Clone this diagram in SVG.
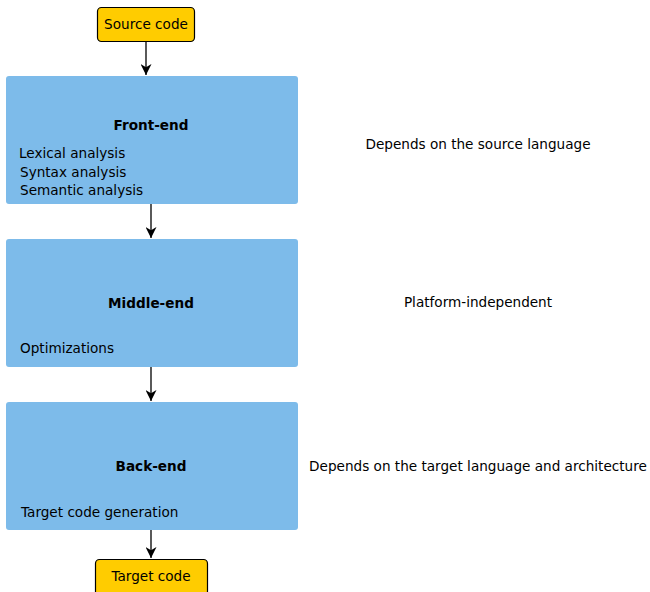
<svg xmlns="http://www.w3.org/2000/svg" width="650" height="592" viewBox="0 0 650 592">
  <defs>
    <marker id="arrow" viewBox="0 0 10 10" refX="10" refY="5" markerWidth="11" markerHeight="11" markerUnits="userSpaceOnUse" orient="auto">
      <path d="M0,0 L10,5 L0,10 L3,5 Z" fill="#000"/>
    </marker>
  </defs>
  <style>
    text { font-family: "DejaVu Sans", "Liberation Sans", sans-serif; font-size: 13.6px; fill: #000; }
    .title { font-weight: bold; text-anchor: middle; }
    .note { text-anchor: middle; }
    .stage { fill: #7dbbea; }
    .io { fill: #ffcc00; stroke: #000; stroke-width: 1.2; }
    .edge { stroke: #000; stroke-width: 1.3; fill: none; marker-end: url(#arrow); }
  </style>
  <rect width="650" height="592" fill="#fff"/>

  <g id="connectors">
    <line class="edge" x1="146" y1="41" x2="146" y2="75"/>
    <line class="edge" x1="151" y1="204" x2="151" y2="238"/>
    <line class="edge" x1="151" y1="367" x2="151" y2="401"/>
    <line class="edge" x1="151" y1="530" x2="151" y2="558"/>
  </g>

  <g id="source">
    <rect class="io" x="97.5" y="7.5" width="97" height="34" rx="4"/>
    <text class="note" x="146" y="29">Source code</text>
  </g>

  <g id="frontend">
    <rect class="stage" x="6" y="76" width="292" height="128" rx="3"/>
    <text class="title" x="151" y="130">Front-end</text>
    <text x="19" y="158">Lexical analysis</text>
    <text x="20" y="177">Syntax analysis</text>
    <text x="20" y="195">Semantic analysis</text>
  </g>

  <g id="middleend">
    <rect class="stage" x="6" y="239" width="292" height="128" rx="3"/>
    <text class="title" x="151" y="308">Middle-end</text>
    <text x="20" y="353">Optimizations</text>
  </g>

  <g id="backend">
    <rect class="stage" x="6" y="402" width="292" height="128" rx="3"/>
    <text class="title" x="151" y="471">Back-end</text>
    <text x="21" y="517">Target code generation</text>
  </g>

  <g id="target">
    <rect class="io" x="95.5" y="559.5" width="112" height="36" rx="4"/>
    <text class="note" x="151" y="581">Target code</text>
  </g>

  <g id="notes">
    <text class="note" x="478" y="149">Depends on the source language</text>
    <text class="note" x="478" y="307">Platform-independent</text>
    <text class="note" x="478" y="471">Depends on the target language and architecture</text>
  </g>
</svg>
